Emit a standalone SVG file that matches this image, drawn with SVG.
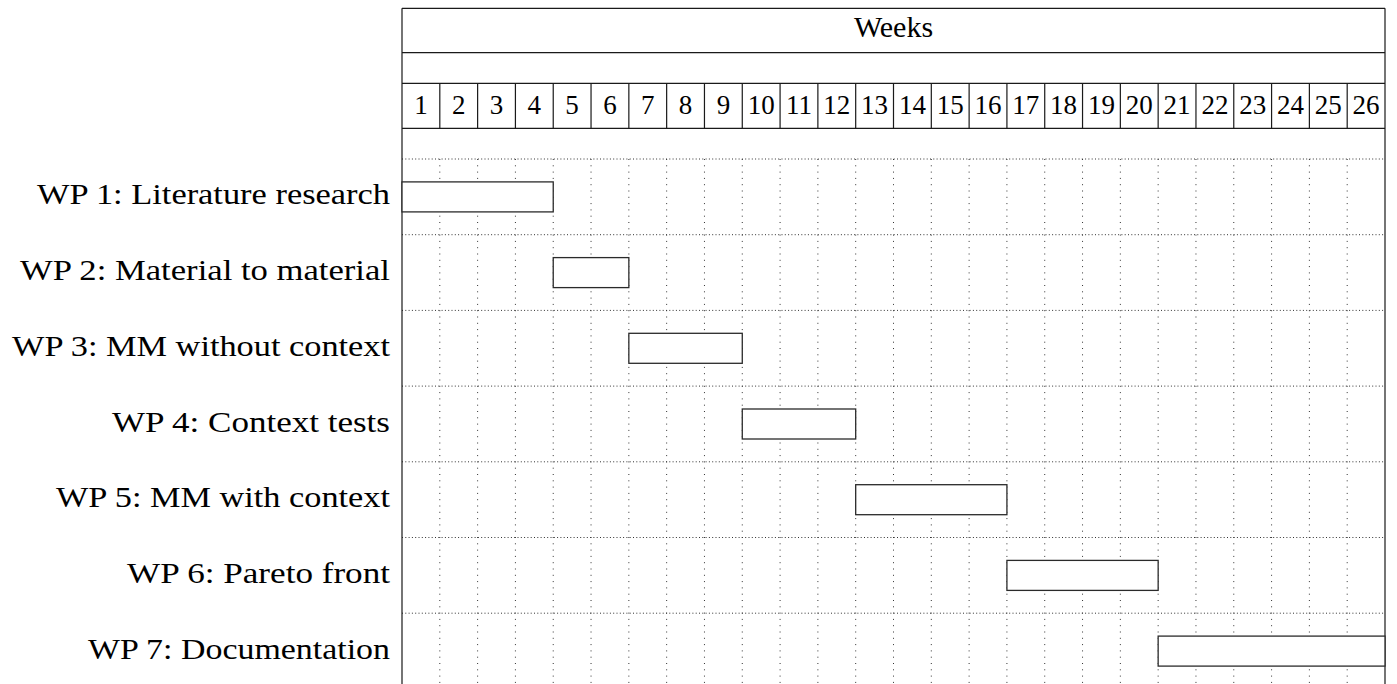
<svg xmlns="http://www.w3.org/2000/svg" width="1397" height="684" viewBox="0 0 1397 684">
<style>
.lbl{font-family:"Liberation Serif","Times New Roman",serif;font-size:30px;fill:#000;text-anchor:end}
.wk{font-family:"Liberation Serif","Times New Roman",serif;font-size:27px;fill:#000;text-anchor:middle}
.ttl{font-family:"Liberation Serif","Times New Roman",serif;font-size:30px;fill:#000;text-anchor:middle}
.solid{stroke:#1a1a1a;stroke-width:1.2;fill:none}
.dotv{stroke:#333;stroke-width:1;stroke-dasharray:1 5.3;fill:none}
.doth{stroke:#333;stroke-width:1;stroke-dasharray:1 2.3;fill:none}
.bar{fill:#fff;stroke:#2a2a2a;stroke-width:1.3}
</style>
<rect width="1397" height="684" fill="#fff"/>
<g id="grid">
<path class="doth" d="M402 159H1385M402 234.7H1385M402 310.4H1385M402 386.1H1385M402 461.8H1385M402 537.5H1385M402 613.2H1385"/>
<path class="dotv" d="M439.81 159V684M477.62 159V684M515.42 159V684M553.23 159V684M591.04 159V684M628.85 159V684M666.65 159V684M704.46 159V684M742.27 159V684M780.08 159V684M817.88 159V684M855.69 159V684M893.5 159V684M931.31 159V684M969.12 159V684M1006.92 159V684M1044.73 159V684M1082.54 159V684M1120.35 159V684M1158.15 159V684M1195.96 159V684M1233.77 159V684M1271.58 159V684M1309.38 159V684M1347.19 159V684"/>
</g>
<g id="header">
<path class="solid" d="M402 8.3H1385M402 52.7H1385M402 83.3H1385M402 128.3H1385M402 8.3V684M1385 8.3V684"/>
<path class="solid" d="M439.81 83.3V128.3M477.62 83.3V128.3M515.42 83.3V128.3M553.23 83.3V128.3M591.04 83.3V128.3M628.85 83.3V128.3M666.65 83.3V128.3M704.46 83.3V128.3M742.27 83.3V128.3M780.08 83.3V128.3M817.88 83.3V128.3M855.69 83.3V128.3M893.5 83.3V128.3M931.31 83.3V128.3M969.12 83.3V128.3M1006.92 83.3V128.3M1044.73 83.3V128.3M1082.54 83.3V128.3M1120.35 83.3V128.3M1158.15 83.3V128.3M1195.96 83.3V128.3M1233.77 83.3V128.3M1271.58 83.3V128.3M1309.38 83.3V128.3M1347.19 83.3V128.3"/>
<text class="ttl" x="893.5" y="37.3">Weeks</text>
<g class="wk">
<text x="420.9" y="114">1</text><text x="458.7" y="114">2</text><text x="496.5" y="114">3</text><text x="534.3" y="114">4</text><text x="572.1" y="114">5</text><text x="609.9" y="114">6</text><text x="647.8" y="114">7</text><text x="685.6" y="114">8</text><text x="723.4" y="114">9</text><text x="761.2" y="114">10</text><text x="799.0" y="114">11</text><text x="836.8" y="114">12</text><text x="874.6" y="114">13</text><text x="912.4" y="114">14</text><text x="950.2" y="114">15</text><text x="988.0" y="114">16</text><text x="1025.8" y="114">17</text><text x="1063.6" y="114">18</text><text x="1101.4" y="114">19</text><text x="1139.3" y="114">20</text><text x="1177.1" y="114">21</text><text x="1214.9" y="114">22</text><text x="1252.7" y="114">23</text><text x="1290.5" y="114">24</text><text x="1328.3" y="114">25</text><text x="1366.1" y="114">26</text>
</g>
</g>
<g id="wp1"><rect class="bar" x="402" y="181.9" width="151.23" height="30"/><text class="lbl" x="390" y="204.4" textLength="353" lengthAdjust="spacingAndGlyphs">WP 1: Literature research</text></g>
<g id="wp2"><rect class="bar" x="553.23" y="257.6" width="75.62" height="30"/><text class="lbl" x="390" y="280.1" textLength="370" lengthAdjust="spacingAndGlyphs">WP 2: Material to material</text></g>
<g id="wp3"><rect class="bar" x="628.85" y="333.3" width="113.42" height="30"/><text class="lbl" x="390" y="355.8" textLength="378" lengthAdjust="spacingAndGlyphs">WP 3: MM without context</text></g>
<g id="wp4"><rect class="bar" x="742.27" y="409.0" width="113.42" height="30"/><text class="lbl" x="390" y="431.5" textLength="278" lengthAdjust="spacingAndGlyphs">WP 4: Context tests</text></g>
<g id="wp5"><rect class="bar" x="855.69" y="484.7" width="151.23" height="30"/><text class="lbl" x="390" y="507.2" textLength="334" lengthAdjust="spacingAndGlyphs">WP 5: MM with context</text></g>
<g id="wp6"><rect class="bar" x="1006.92" y="560.4" width="151.23" height="30"/><text class="lbl" x="390" y="582.9" textLength="263" lengthAdjust="spacingAndGlyphs">WP 6: Pareto front</text></g>
<g id="wp7"><rect class="bar" x="1158.15" y="636.1" width="226.85" height="30"/><text class="lbl" x="390" y="658.6" textLength="302" lengthAdjust="spacingAndGlyphs">WP 7: Documentation</text></g>
<g id="connectors"/>
</svg>
